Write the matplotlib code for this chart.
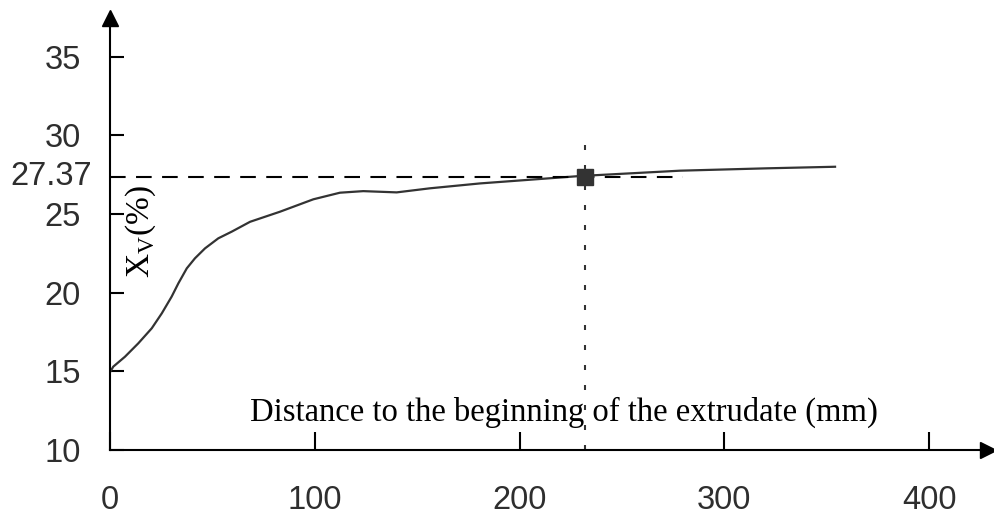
import matplotlib
matplotlib.use("Agg")
import matplotlib.pyplot as plt

plt.rcParams['mathtext.fontset'] = 'custom'
plt.rcParams['mathtext.rm'] = 'Liberation Serif'

# curve
distance = [0, 1.6, 7.3, 13.8, 20.4, 25.3, 30.1, 33.4, 37.5, 41.5, 46.4, 52.9,
            59.4, 68.4, 83.0, 99.3, 112.3, 123.7, 140.0, 156.3, 180.7, 229.5,
            278.4, 320.7, 354.1]
xv = [14.95, 15.30, 15.93, 16.78, 17.74, 18.69, 19.75, 20.60, 21.55, 22.19, 22.82, 23.46,
      23.88, 24.51, 25.15, 25.94, 26.36, 26.46, 26.38, 26.64, 26.95, 27.42,
      27.76, 27.91, 28.01]

mark_x = 232
mark_y = 27.37
hline_end = 280
vline_top = 29.5

xticks = [0, 100, 200, 300, 400]
yticks = [10, 15, 20, 25, 30, 35]

fig = plt.figure(figsize=(9.95, 5.15), dpi=100)
ax = fig.add_axes([110 / 995, 65 / 515, 878 / 995, 432.5 / 515])
ax.set_xlim(0, 428.8)
ax.set_ylim(10, 37.5)

for s in ['top', 'right']:
    ax.spines[s].set_visible(False)
for s in ['left', 'bottom']:
    ax.spines[s].set_linewidth(1.5)

# arrow heads
ax.plot(0, 1, marker='^', color='black', ms=11.5, transform=ax.transAxes, clip_on=False)
ax.plot(1, 0, marker='>', color='black', ms=11.5, transform=ax.transAxes, clip_on=False)

ax.plot(distance, xv, color='#333333', lw=1.6)

ax.plot([0, hline_end], [mark_y, mark_y], color='black', lw=1.5, linestyle=(0, (7.5, 5)))
ax.plot([mark_x, mark_x], [10, vline_top], color='#333333', lw=1.5, linestyle=(0, (2.4, 7.2)))
ax.plot(mark_x, mark_y, marker='s', color='#333333', ms=12)

ax.set_xticks(xticks)
ax.set_xticklabels([str(t) for t in xticks])
ax.set_yticks(yticks)
ax.set_yticklabels([str(t) for t in yticks])
ax.tick_params(axis='x', direction='in', length=13, width=1.5, pad=25,
               labelsize=23.5, labelcolor='#2e2e2e')
ax.tick_params(axis='y', direction='in', length=10, width=1.5, pad=21,
               labelsize=23.5, labelcolor='#2e2e2e')
for lab in ax.get_xticklabels() + ax.get_yticklabels():
    lab.set_fontfamily('Liberation Sans')

ax.annotate('27.37', xy=(0, mark_y), xycoords=('axes fraction', 'data'),
            xytext=(-13, 0), textcoords='offset points', ha='right', va='center',
            fontsize=23.5, color='#2e2e2e', family='Liberation Sans')

ax.text(221.7, 12.4, 'Distance to the beginning of the extrudate (mm)',
        ha='center', va='center', fontsize=23.5, family='Liberation Serif')
ax.text(15.1, 23.86, r'X$_{\mathrm{V}}$(%)', rotation=90, ha='center', va='center',
        fontsize=24, family='Liberation Serif')

fig.savefig('out.png', dpi=100)
